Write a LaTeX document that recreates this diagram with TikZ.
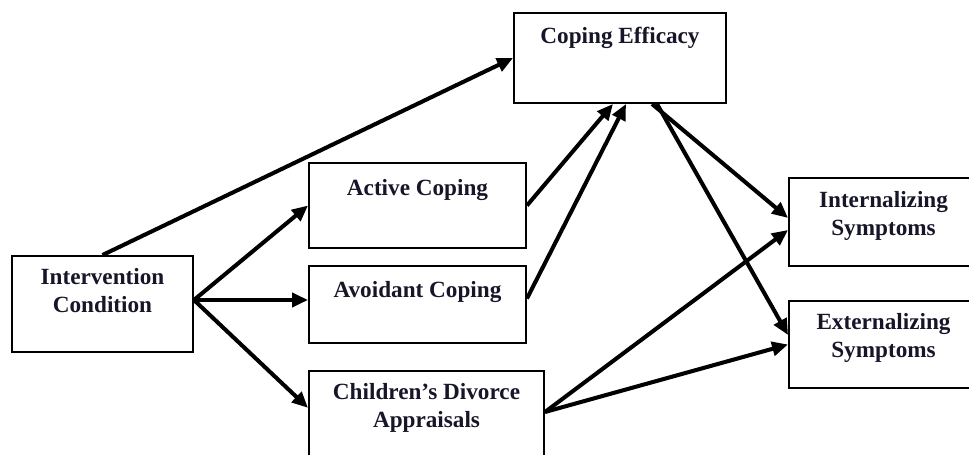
\documentclass[tikz,border=0pt]{standalone}
\usepackage{fontspec}
\setmainfont{Liberation Serif}
\usetikzlibrary{positioning,arrows.meta}
\definecolor{ink}{RGB}{22,22,40}
\begin{document}
\begin{tikzpicture}[box/.style={draw, line width=1.1pt, inner sep=0pt},
    lab/.style={inner sep=0pt, align=center, text=ink, font=\fontsize{13.2}{15.9}\selectfont\bfseries},
    arr/.style={line width=2.3pt, -{Triangle[length=0.32cm, width=0.28cm]}}]
        \useasboundingbox (0,0) rectangle (19.38,9.1);

        \node[box, minimum width=3.62cm, minimum height=1.92cm] (cond) at (2.05,3.02) {};
        \node[lab, below=0.26cm of cond.north] (cond') {Intervention\\Condition};
        \coordinate (c) at ([yshift=0.08cm]cond.east);

        \node[box, minimum width=4.24cm, minimum height=1.80cm] (eff) at (12.40,7.94) {};
        \node[lab, below=0.30cm of eff.north] (eff') {Coping Efficacy};

        \node[box, minimum width=4.34cm, minimum height=1.70cm] (act) at (8.35,4.99) {};
        \node[lab, below=0.34cm of act.north] (act') {Active Coping};

        \node[box, minimum width=4.34cm, minimum height=1.54cm] (avo) at (8.35,3.01) {};
        \node[lab, below=0.32cm of avo.north] (avo') {Avoidant Coping};

        \node[box, minimum width=4.70cm, minimum height=2.08cm] (app) at (8.53,0.64) {};
        \node[lab, below=0.26cm of app.north] (app') {Children’s Divorce\\Appraisals};

        \node[box, minimum width=3.78cm, minimum height=1.76cm] (int) at (17.67,4.66) {};
        \node[lab, below=0.28cm of int.north] (int') {Internalizing\\Symptoms};

        \node[box, minimum width=3.78cm, minimum height=1.74cm] (ext) at (17.67,2.21) {};
        \node[lab, below=0.26cm of ext.north] (ext') {Externalizing\\Symptoms};

        \draw[arr] (cond.north) -- (eff.west);
        \draw[arr] (c) -- (act.west);
        \draw[arr] (c) -- (avo.west |- c);
        \draw[arr] (c) -- (app.west |- app');

        \draw[arr] (act.east) -- ([xshift=-0.14cm]eff.south);
        \draw[arr] ([yshift=0.12cm]avo.east) -- ([xshift=0.12cm]eff.south);

        \draw[arr] ([xshift=0.64cm]eff.south) -- ([yshift=0.08cm]int.west);
        \draw[arr] ([xshift=0.74cm]eff.south) -- ([yshift=0.19cm]ext.west);
        \draw[arr] ([yshift=0.22cm]app.east) -- ([yshift=-0.16cm]int.west);
        \draw[arr] ([yshift=0.22cm]app.east) -- (ext.west);
\end{tikzpicture}
\end{document}
